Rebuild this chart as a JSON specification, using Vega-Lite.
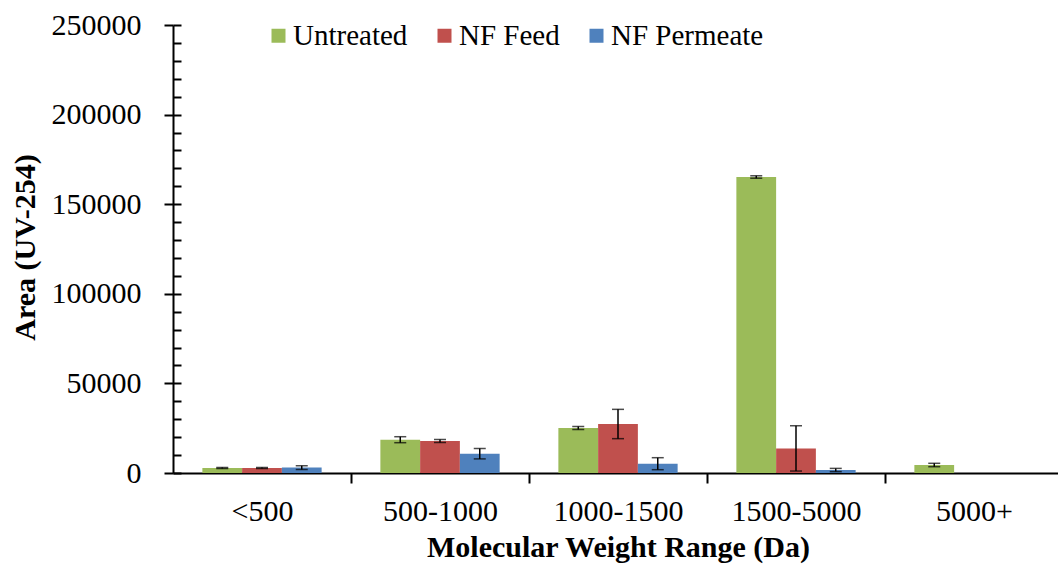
{
  "$schema": "https://vega.github.io/schema/vega-lite/v6.json",
  "width": 885,
  "height": 448,
  "autosize": {"type": "none"},
  "padding": {"left": 173, "top": 25, "right": 0, "bottom": 94},
  "config": {
    "font": "Liberation Serif",
    "view": {"stroke": null},
    "axis": {"grid": false, "domainColor": "black", "tickColor": "black", "labelColor": "black", "titleColor": "black", "domainWidth": 2, "tickWidth": 2}
  },
  "data": {
    "values": [
      {"range": "<500", "sample": "Untreated", "area": 2790, "low": 2500, "high": 3080},
      {"range": "<500", "sample": "NF Feed", "area": 2790, "low": 2500, "high": 3080},
      {"range": "<500", "sample": "NF Permeate", "area": 3000, "low": 2000, "high": 4000},
      {"range": "500-1000", "sample": "Untreated", "area": 18580, "low": 16910, "high": 20250},
      {"range": "500-1000", "sample": "NF Feed", "area": 17860, "low": 17020, "high": 18700},
      {"range": "500-1000", "sample": "NF Permeate", "area": 10770, "low": 7870, "high": 13670},
      {"range": "1000-1500", "sample": "Untreated", "area": 25110, "low": 24270, "high": 25950},
      {"range": "1000-1500", "sample": "NF Feed", "area": 27340, "low": 19160, "high": 35520},
      {"range": "1000-1500", "sample": "NF Permeate", "area": 5190, "low": 1840, "high": 8540},
      {"range": "1500-5000", "sample": "Untreated", "area": 165180, "low": 164500, "high": 165860},
      {"range": "1500-5000", "sample": "NF Feed", "area": 13730, "low": 1090, "high": 26370},
      {"range": "1500-5000", "sample": "NF Permeate", "area": 1670, "low": 770, "high": 2570},
      {"range": "5000+", "sample": "Untreated", "area": 4460, "low": 3510, "high": 5410}
    ]
  },
  "encoding": {
    "x": {
      "field": "range",
      "type": "nominal",
      "sort": ["<500", "500-1000", "1000-1500", "1500-5000", "5000+"],
      "scale": {"range": [0, 890], "paddingInner": 0.33, "paddingOuter": 0.165},
      "axis": {
        "title": "Molecular Weight Range (Da)",
        "titleFontSize": 30,
        "titleFontWeight": "bold",
        "titlePadding": 6,
        "labelFontSize": 30,
        "labelAngle": 0,
        "labelPadding": 13,
        "tickSize": 10,
        "tickOffset": 89,
        "labelOffset": -89
      }
    },
    "xOffset": {
      "field": "sample",
      "type": "nominal",
      "sort": ["Untreated", "NF Feed", "NF Permeate"],
      "scale": {"domain": ["Untreated", "NF Feed", "NF Permeate"], "paddingInner": 0, "paddingOuter": 0}
    }
  },
  "layer": [
    {
      "mark": {"type": "bar"},
      "encoding": {
        "y": {
          "field": "area",
          "type": "quantitative",
          "scale": {"domain": [0, 250000], "nice": false},
          "axis": {
            "title": "Area (UV-254)",
            "titleFontSize": 30,
            "titleFontWeight": "bold",
            "titleX": -133,
            "titleY": 222,
            "labelFontSize": 30,
            "labelPadding": 23,
            "tickSize": 9,
            "values": [0, 50000, 100000, 150000, 200000, 250000],
            "format": "d",
            "orient": "left"
          }
        },
        "color": {
          "field": "sample",
          "type": "nominal",
          "scale": {"domain": ["Untreated", "NF Feed", "NF Permeate"], "range": ["#9BBB59", "#C0504D", "#4F81BD"]},
          "legend": {
            "orient": "none",
            "legendX": 91,
            "legendY": -4,
            "direction": "horizontal",
            "title": null,
            "symbolType": "square",
            "symbolSize": 196,
            "symbolStrokeWidth": 0,
            "labelFontSize": 29,
            "labelOffset": 0,
            "columnPadding": 22,
            "padding": 0,
            "labelColor": "black"
          }
        }
      }
    },
    {
      "mark": {"type": "rule", "color": "black", "strokeWidth": 1.5},
      "encoding": {
        "y": {
          "field": "low",
          "type": "quantitative",
          "axis": {
            "title": null,
            "orient": "left",
            "labels": false,
            "domain": false,
            "tickSize": -8,
            "values": [0, 10000, 20000, 30000, 40000, 50000, 60000, 70000, 80000, 90000, 100000, 110000, 120000, 130000, 140000, 150000, 160000, 170000, 180000, 190000, 200000, 210000, 220000, 230000, 240000, 250000]
          }
        },
        "y2": {"field": "high"}
      }
    },
    {
      "mark": {"type": "tick", "color": "black", "size": 12, "thickness": 1.5},
      "encoding": {"y": {"field": "low", "type": "quantitative", "axis": null}}
    },
    {
      "mark": {"type": "tick", "color": "black", "size": 12, "thickness": 1.5},
      "encoding": {"y": {"field": "high", "type": "quantitative", "axis": null}}
    }
  ],
  "resolve": {"axis": {"y": "independent"}}
}
